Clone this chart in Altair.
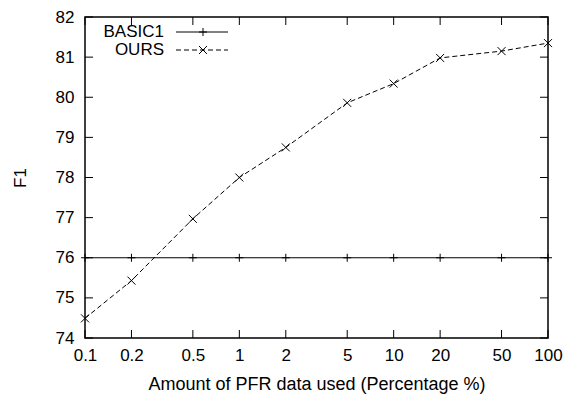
import altair as alt
import pandas as pd

# ---- data ----
x_vals = [0.1, 0.2, 0.5, 1, 2, 5, 10, 20, 50, 100]
basic1 = [76, 76, 76, 76, 76, 76, 76, 76, 76, 76]
ours = [74.49, 75.43, 76.97, 78.0, 78.75, 79.86, 80.34, 80.98, 81.15, 81.35]
series = ["BASIC1", "OURS"]
y_ticks = [74, 75, 76, 77, 78, 79, 80, 81, 82]

W, H = 463, 321
FONT = "Liberation Sans"
FS = 17
PLUS = "M-1,0L1,0M0,-1L0,1"
CROSS = "M-1,-1L1,1M-1,1L1,-1"

df_b = pd.DataFrame({"x": x_vals, "y": basic1, "s": series[0]})
df_o = pd.DataFrame({"x": x_vals, "y": ours, "s": series[1]})

xs = alt.Scale(type="log", domain=[0.1, 100], nice=False)
ys = alt.Scale(domain=[74, 82], nice=False, zero=False)

x_axis = alt.Axis(values=x_vals, format="~g", title="Amount of PFR data used (Percentage %)",
                  tickSize=0, domain=False, grid=False, labelPadding=9, labelFlush=False,
                  labelOverlap=False, titleY=46, titleBaseline="middle", titleFontSize=18)
y_axis = alt.Axis(values=y_ticks, title="F1", tickSize=0, domain=False, grid=False,
                  labelPadding=11, labelFlush=False, labelOverlap=False,
                  titleX=-65, titleY=H / 2, titleBaseline="middle", titleAngle=-90)

X = alt.X("x:Q", scale=xs, axis=x_axis)
Y = alt.Y("y:Q", scale=ys, axis=y_axis)

line_b = alt.Chart(df_b).mark_line(color="black", strokeWidth=1).encode(x=X, y=Y)
pts_b = alt.Chart(df_b).mark_point(shape=PLUS, size=64, filled=False, color="black",
                                   strokeWidth=1, opacity=1).encode(x=X, y=Y)
line_o = alt.Chart(df_o).mark_line(color="black", strokeWidth=1, strokeDash=[5, 3]).encode(x=X, y=Y)
pts_o = alt.Chart(df_o).mark_point(shape=CROSS, size=64, filled=False, color="black",
                                   strokeWidth=1, opacity=1).encode(x=X, y=Y)

# inside ticks (gnuplot style, mirrored)
dfy = pd.DataFrame({"y": y_ticks})
dfx = pd.DataFrame({"x": x_vals})
TL = 8
tick_l = alt.Chart(dfy).mark_rule(color="black", strokeWidth=1).encode(
    y=Y, x=alt.value(0), x2=alt.value(TL))
tick_r = alt.Chart(dfy).mark_rule(color="black", strokeWidth=1).encode(
    y=Y, x=alt.value(W - TL), x2=alt.value(W))
tick_b = alt.Chart(dfx).mark_rule(color="black", strokeWidth=1).encode(
    x=X, y=alt.value(H - TL), y2=alt.value(H))
tick_t = alt.Chart(dfx).mark_rule(color="black", strokeWidth=1).encode(
    x=X, y=alt.value(0), y2=alt.value(TL))

# legend (top-left, inside)
legend_layers = []
for i, (name, shape, dash) in enumerate([(series[0], PLUS, [1, 0]), (series[1], CROSS, [5, 3])]):
    ly = 15 + 18 * i
    d = pd.DataFrame({"s": [name]})
    legend_layers.append(alt.Chart(d).mark_text(align="right", baseline="middle", font=FONT,
                                                fontSize=FS, color="black").encode(
        text="s:N", x=alt.value(79), y=alt.value(ly)))
    legend_layers.append(alt.Chart(d).mark_rule(color="black", strokeWidth=1, strokeDash=dash).encode(
        x=alt.value(91), x2=alt.value(143), y=alt.value(ly)))
    legend_layers.append(alt.Chart(d).mark_point(shape=shape, size=64, filled=False, color="black",
                                                 strokeWidth=1, opacity=1).encode(
        x=alt.value(118), y=alt.value(ly)))

chart = alt.layer(line_b, line_o, pts_b, pts_o, tick_l, tick_r, tick_b, tick_t, *legend_layers).properties(
    width=W, height=H,
    autosize=alt.AutoSizeParams(type="none"),
    padding={"left": 77, "top": 9, "right": 15, "bottom": 56},
).configure_view(stroke="black", strokeWidth=1.5).configure_axis(
    labelFont=FONT, titleFont=FONT, labelFontSize=FS, titleFontSize=FS,
    labelColor="black", titleColor="black", titleFontWeight="normal"
)

chart.save("out.html", embed_options={"renderer": "svg", "actions": False})
